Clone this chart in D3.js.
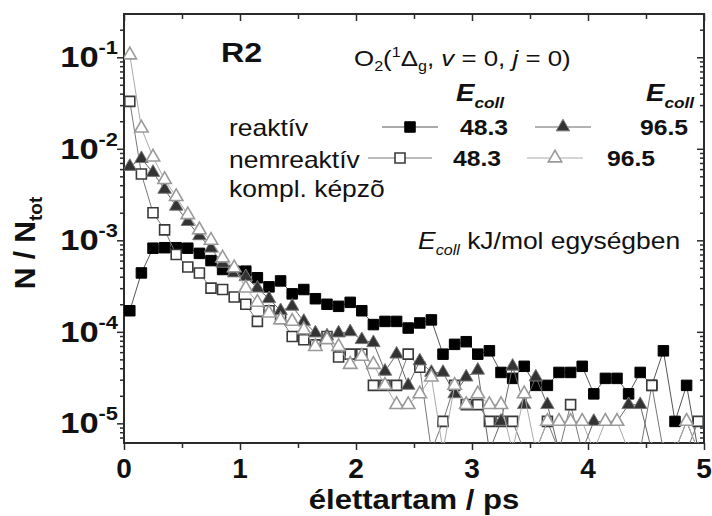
<!DOCTYPE html>
<html>
<head>
<meta charset="utf-8">
<script src="https://cdn.jsdelivr.net/npm/d3@7"></script>
<style>
  body { margin: 0; background: #fff; }
  svg { display: block; }
</style>
</head>
<body>
<script>
// élettartam (ps), bin centres
const times = [0.05, 0.15, 0.25, 0.35, 0.45, 0.55, 0.65, 0.75, 0.85, 0.95,
  1.05, 1.15, 1.25, 1.35, 1.45, 1.55, 1.65, 1.75, 1.85, 1.95,
  2.05, 2.15, 2.25, 2.35, 2.45, 2.55, 2.65, 2.75, 2.85, 2.95,
  3.05, 3.15, 3.25, 3.35, 3.45, 3.55, 3.65, 3.75, 3.85, 3.95,
  4.05, 4.15, 4.25, 4.35, 4.45, 4.55, 4.65, 4.75, 4.85, 4.95];

// N / Ntot ; values below the axis (single events) read as 5e-6
const reaktiv483 = [1.7e-4, 4.4e-4, 8.2e-4, 8.3e-4, 8.3e-4, 8.2e-4, 7.2e-4, 6.0e-4, 4.8e-4, 4.6e-4,
  4.6e-4, 3.9e-4, 3.1e-4, 3.6e-4, 2.6e-4, 2.9e-4, 2.3e-4, 2.0e-4, 1.9e-4, 2.1e-4,
  1.7e-4, 1.2e-4, 1.3e-4, 1.3e-4, 1.1e-4, 1.25e-4, 1.35e-4, 5.7e-5, 7.3e-5, 7.8e-5,
  5.7e-5, 6.2e-5, 3.6e-5, 3.1e-5, 4.2e-5, 2.6e-5, 2.6e-5, 3.6e-5, 3.6e-5, 4.2e-5,
  2.1e-5, 3.1e-5, 3.1e-5, 2.1e-5, 3.6e-5, 2.6e-5, 6.2e-5, 1.05e-5, 2.6e-5, 5e-6];

const nemreaktiv483 = [3.3e-2, 5.3e-3, 2.0e-3, 1.3e-3, 7.0e-4, 5.1e-4, 4.4e-4, 3.0e-4, 2.9e-4, 2.4e-4,
  2.0e-4, 1.3e-4, 1.7e-4, 1.4e-4, 8.9e-5, 8.2e-5, 7.2e-5, 8.9e-5, 5.3e-5, 5.7e-5,
  5.7e-5, 2.6e-5, 2.6e-5, 2.6e-5, 5.7e-5, 4.1e-5, 5e-6, 1.05e-5, 2.6e-5, 1.6e-5,
  1.6e-5, 1.05e-5, 1.05e-5, 1.05e-5, 5e-6, 5e-6, 1.05e-5, 5e-6, 1.6e-5, 5e-6,
  5e-6, 5e-6, 5e-6, 5e-6, 5e-6, 2.6e-5, 5e-6, 5e-6, 5e-6, 1.05e-5];

const reaktiv965 = [6.4e-3, 7.8e-3, 5.5e-3, 3.6e-3, 2.35e-3, 1.6e-3, 1.12e-3, 8.2e-4, 5.6e-4, 4.4e-4,
  4.0e-4, 3.0e-4, 2.3e-4, 1.7e-4, 1.9e-4, 1.3e-4, 9.7e-5, 9.0e-5, 9.7e-5, 1.0e-4,
  8.2e-5, 7.6e-5, 3.7e-5, 5.7e-5, 2.6e-5, 4.8e-5, 3.6e-5, 3.6e-5, 2.1e-5, 3.2e-5,
  3.8e-5, 5e-6, 1.05e-5, 4.2e-5, 1.6e-5, 3.2e-5, 1.6e-5, 5e-6, 5e-6, 5e-6,
  1.05e-5, 1.05e-5, 1.05e-5, 1.6e-5, 1.6e-5, 5e-6, 5e-6, 5e-6, 1.05e-5, 5e-6];

const nemreaktiv965 = [1.06e-1, 1.68e-2, 8.1e-3, 4.6e-3, 3.0e-3, 1.9e-3, 1.3e-3, 1.0e-3, 6.4e-4, 5.0e-4,
  3.0e-4, 2.1e-4, 1.6e-4, 1.35e-4, 1.3e-4, 1.05e-4, 6.9e-5, 8.2e-5, 6.9e-5, 4.4e-5,
  5.4e-5, 4.4e-5, 2.6e-5, 1.6e-5, 1.6e-5, 2.1e-5, 3.2e-5, 5e-6, 2.6e-5, 1.6e-5,
  2.1e-5, 1.6e-5, 1.6e-5, 5e-6, 2.1e-5, 5e-6, 1.05e-5, 1.05e-5, 1.05e-5, 1.05e-5,
  5e-6, 1.05e-5, 1.05e-5, 5e-6, 5e-6, 5e-6, 5e-6, 5e-6, 1.05e-5, 5e-6];

const xTickValues = [0, 1, 2, 3, 4, 5];
const yTickValues = [1e-1, 1e-2, 1e-3, 1e-4, 1e-5];
const yTickExponents = ["-1", "-2", "-3", "-4", "-5"];
const legendValues = ["48.3", "96.5"];

const width = 712, height = 516;
const margin = { top: 14, right: 8, bottom: 73, left: 124 };
const font = "'Liberation Sans', Arial, sans-serif";
const SX = 1.15; // the original figure is a little wider than tall
const axisColor = "#2b2b2b";

const svg = d3.select("body").append("svg")
  .attr("width", width)
  .attr("height", height)
  .style("font-family", font);

const x = d3.scaleLinear([0, 5], [margin.left, width - margin.right]);
const y = d3.scaleLog([6.1e-6, 0.297], [height - margin.bottom, margin.top]);

// text helper, slightly stretched horizontally like the source
function txt(px, py, size, weight, anchor, sx) {
  return svg.append("text")
    .attr("transform", `translate(${px},${py}) scale(${sx || SX},1)`)
    .attr("font-size", size)
    .attr("font-weight", weight || "normal")
    .attr("text-anchor", anchor || "start")
    .attr("fill", "#111");
}

// ---- axes ----
const yMinor = y.ticks().filter(v => !yTickValues.some(t => Math.abs(t - v) / t < 1e-6));
const xMinor = x.ticks(10).filter(v => !Number.isInteger(v));

function styleAxis(g) {
  g.select(".domain").remove();
  g.selectAll("line").attr("stroke", axisColor).attr("stroke-width", 1.5);
  g.selectAll("text").remove();
}

const axLeft = svg.append("g").attr("transform", `translate(${margin.left},0)`);
axLeft.append("g").call(d3.axisLeft(y).tickValues(yTickValues).tickSize(7)).call(styleAxis);
axLeft.append("g").call(d3.axisLeft(y).tickValues(yMinor).tickSize(4)).call(styleAxis);

const axRight = svg.append("g").attr("transform", `translate(${width - margin.right},0)`);
axRight.append("g").call(d3.axisRight(y).tickValues(yTickValues).tickSize(-7)).call(styleAxis);
axRight.append("g").call(d3.axisRight(y).tickValues(yMinor).tickSize(-4)).call(styleAxis);

const axBottom = svg.append("g").attr("transform", `translate(0,${height - margin.bottom})`);
axBottom.append("g").call(d3.axisBottom(x).tickValues(xTickValues).tickSize(7)).call(styleAxis);
axBottom.append("g").call(d3.axisBottom(x).tickValues(xMinor).tickSize(5)).call(styleAxis);

const axTop = svg.append("g").attr("transform", `translate(0,${margin.top})`);
axTop.append("g").call(d3.axisTop(x).tickValues(xTickValues).tickSize(-7)).call(styleAxis);
axTop.append("g").call(d3.axisTop(x).tickValues(xMinor).tickSize(-5)).call(styleAxis);

svg.append("rect")
  .attr("x", margin.left).attr("y", margin.top)
  .attr("width", width - margin.left - margin.right)
  .attr("height", height - margin.top - margin.bottom)
  .attr("fill", "none").attr("stroke", axisColor).attr("stroke-width", 2);

// tick labels
xTickValues.forEach(v => {
  txt(x(v), 478, 28, "bold", "middle", 1).text(v);
});
yTickValues.forEach((v, i) => {
  const t = txt(118, y(v) + 10, 30, "bold", "end");
  t.append("tspan").text("10");
  t.append("tspan").attr("font-size", 19).attr("dy", -13).text(yTickExponents[i]);
});

// axis titles
txt(414, 509, 27, "bold", "middle").text("élettartam / ps");
const yTitle = svg.append("text")
  .attr("transform", "translate(35,243) rotate(-90)")
  .attr("text-anchor", "middle")
  .attr("font-size", 30)
  .attr("font-weight", "bold")
  .attr("fill", "#111");
yTitle.append("tspan").text("N / N");
yTitle.append("tspan").attr("font-size", 19).attr("dy", 7).text("tot");

// ---- data ----
svg.append("clipPath").attr("id", "plotClip")
  .append("rect")
  .attr("x", margin.left).attr("y", margin.top)
  .attr("width", width - margin.left - margin.right)
  .attr("height", height - margin.top - margin.bottom);

const series = [
  { values: reaktiv483, type: d3.symbolSquare, size: 110, fill: "#000", stroke: "#000", sw: 1, line: "#555" },
  { values: nemreaktiv483, type: d3.symbolSquare, size: 100, fill: "#fff", stroke: "#3a3a3a", sw: 1.6, line: "#777" },
  { values: reaktiv965, type: d3.symbolTriangle, size: 78, fill: "#333", stroke: "#777", sw: 1, line: "#666" },
  { values: nemreaktiv965, type: d3.symbolTriangle, size: 78, fill: "#fff", stroke: "#9a9a9a", sw: 1.6, line: "#aaa" },
];

const plot = svg.append("g").attr("clip-path", "url(#plotClip)");
const line = d3.line().x(d => x(d[0])).y(d => y(d[1]));

series.forEach(s => {
  const pts = times.map((t, i) => [t, s.values[i]]);
  plot.append("path")
    .attr("d", line(pts))
    .attr("fill", "none")
    .attr("stroke", s.line)
    .attr("stroke-width", 1);
  plot.selectAll(null)
    .data(pts)
    .join("path")
    .attr("transform", d => `translate(${x(d[0])},${y(d[1])})`)
    .attr("d", d3.symbol().type(s.type).size(s.size))
    .attr("fill", s.fill)
    .attr("stroke", s.stroke)
    .attr("stroke-width", s.sw);
});

// ---- annotations / legend ----
txt(221, 62, 28, "bold").text("R2");

const o2 = txt(354, 66, 22.5);
o2.append("tspan").text("O");
o2.append("tspan").attr("font-size", 14).attr("dy", 5).text("2");
o2.append("tspan").attr("dy", -5).text("(");
o2.append("tspan").attr("font-size", 14).attr("dy", -9).text("1");
o2.append("tspan").attr("dy", 9).text("Δ");
o2.append("tspan").attr("font-size", 14).attr("dy", 5).text("g");
o2.append("tspan").attr("dy", -5).text(", ");
o2.append("tspan").attr("font-style", "italic").text("v");
o2.append("tspan").text(" = 0, ");
o2.append("tspan").attr("font-style", "italic").text("j");
o2.append("tspan").text(" = 0)");

function ecoll(px, py) {
  const t = txt(px, py, 24, "bold");
  t.append("tspan").attr("font-style", "italic").text("E");
  t.append("tspan").attr("font-style", "italic").attr("font-size", 15).attr("dy", 7).text("coll");
}
ecoll(456, 101);
ecoll(646, 101);

txt(229, 136, 23).text("reaktív");
txt(229, 168, 23).text("nemreaktív");
txt(229, 197, 23).text("kompl. képzõ");

const legendRows = [
  { s: series[0], x1: 382, x2: 438, y: 127, label: legendValues[0], lx: 460, ly: 135 },
  { s: series[2], x1: 535, x2: 591, y: 127, label: legendValues[1], lx: 640, ly: 135 },
  { s: series[1], x1: 368, x2: 432, y: 158, label: legendValues[0], lx: 453, ly: 166 },
  { s: series[3], x1: 527, x2: 583, y: 158, label: legendValues[1], lx: 607, ly: 166 },
];
legendRows.forEach(r => {
  svg.append("line")
    .attr("x1", r.x1).attr("x2", r.x2).attr("y1", r.y).attr("y2", r.y)
    .attr("stroke", r.s.line).attr("stroke-width", 1);
  svg.append("path")
    .attr("transform", `translate(${(r.x1 + r.x2) / 2},${r.y})`)
    .attr("d", d3.symbol().type(r.s.type).size(r.s.size))
    .attr("fill", r.s.fill)
    .attr("stroke", r.s.stroke)
    .attr("stroke-width", r.s.sw);
  txt(r.lx, r.ly, 21.5, "bold").text(r.label);
});

const unit = txt(418, 249, 23);
unit.append("tspan").attr("font-style", "italic").text("E");
unit.append("tspan").attr("font-style", "italic").attr("font-size", 14).attr("dy", 6).text("coll");
unit.append("tspan").attr("dy", -6).text(" kJ/mol egységben");
</script>
</body>
</html>
